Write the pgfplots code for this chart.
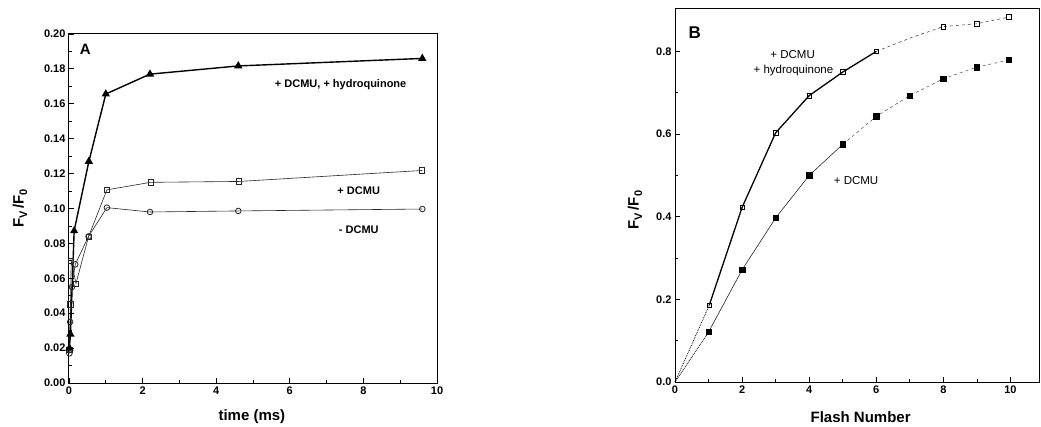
\documentclass[border=0pt]{standalone}
\usepackage{fontspec}
\setmainfont{Liberation Sans}
\usepackage{pgfplots}
\pgfplotsset{compat=1.18}
\newcommand{\FvFo}{F\raisebox{-0.45ex}{\fontsize{11}{12}\selectfont V}\,/F\raisebox{-0.45ex}{\fontsize{11}{12}\selectfont 0}}
\begin{document}
\begin{tikzpicture}[x=1pt,y=1pt]
\pgfplotsset{
 every axis/.append style={
  scale only axis, axis line style={line width=1pt}, tick align=inside,
  xtick pos=bottom, ytick pos=left,
  major tick length=5pt, minor tick length=3pt,
  every tick/.style={black, line width=0.8pt},
  tick label style={font=\fontsize{11}{13}\selectfont\bfseries},
  label style={font=\fontsize{15}{17}\selectfont\bfseries},
  /pgf/number format/assume math mode=true,
  scaled y ticks=false, scaled x ticks=false,
  clip=false,
 }
}
% ---------------- Panel A ----------------
\begin{axis}[at={(69pt,43pt)}, anchor=south west, width=368pt, height=349pt,
  xmin=0, xmax=10, ymin=0, ymax=0.2,
  xtick={0,2,4,6,8,10}, minor x tick num=1,
  ytick={0,0.02,0.04,0.06,0.08,0.10,0.12,0.14,0.16,0.18,0.20}, minor y tick num=1,
  yticklabel style={/pgf/number format/.cd, fixed, fixed zerofill, precision=2},
  xlabel={time (ms)}, ylabel={\FvFo},
  xlabel style={at={(axis description cs:0.497,-0.097)}, anchor=center},
  ylabel style={at={(axis description cs:-0.133,0.5)}, anchor=center, rotate=0}]
\addplot[black!85, line width=0.6pt, mark=o, mark size=2.8pt, mark options={fill=white, solid, line width=0.8pt}]
 coordinates {(0.01,0.017) (0.03,0.035) (0.08,0.055) (0.17,0.068) (0.53,0.084) (1.03,0.1005) (2.2,0.098) (4.6,0.0986) (9.6,0.0997)};
\addplot[black!85, line width=0.6pt, mark=square, mark size=2.6pt, mark options={fill=white, solid, line width=0.8pt}]
 coordinates {(0.01,0.019) (0.04,0.045) (0.06,0.07) (0.19,0.057) (0.53,0.0838) (1.03,0.1107) (2.22,0.115) (4.62,0.1155) (9.6,0.1218)};
\addplot[black, line width=1.4pt, mark=triangle*, mark size=3.4pt, mark options={solid}]
 coordinates {(0.01,0.020) (0.04,0.028) (0.14,0.0872) (0.54,0.127) (1.0,0.1656) (2.2,0.177) (4.6,0.1817) (9.6,0.186)};
\node[anchor=west, font=\fontsize{15}{17}\selectfont\bfseries] at (axis cs:0.2,0.191) {A};
\node[anchor=west, font=\fontsize{11}{13}\selectfont\bfseries] at (axis cs:5.5,0.171) {+ DCMU, + hydroquinone};
\node[anchor=west, font=\fontsize{11}{13}\selectfont\bfseries] at (axis cs:7.2,0.110) {+ DCMU};
\node[anchor=west, font=\fontsize{11}{13}\selectfont\bfseries] at (axis cs:7.24,0.088) {- DCMU};
\end{axis}
% ---------------- Panel B ----------------
\begin{axis}[at={(675pt,44pt)}, anchor=south west, width=364pt, height=374pt,
  xmin=0, xmax=10.85, ymin=0, ymax=0.905,
  xtick={0,2,4,6,8,10}, minor x tick num=1,
  ytick={0,0.2,0.4,0.6,0.8}, minor y tick num=1,
  yticklabel style={/pgf/number format/.cd, fixed, fixed zerofill, precision=1},
  xlabel={Flash Number}, ylabel={\FvFo},
  xlabel style={at={(axis description cs:0.51,-0.094)}, anchor=center},
  ylabel style={at={(axis description cs:-0.11,0.46)}, anchor=center, rotate=0}]
\addplot[black, densely dotted, line width=0.8pt] coordinates {(0,0) (1.02,0.1855)};
\addplot[black, densely dotted, line width=0.8pt] coordinates {(0,0) (1,0.121)};
\addplot[black!85, line width=0.6pt] coordinates {(1,0.121) (2,0.2715) (3,0.397) (4,0.5) (5,0.575)};
\addplot[black!70, line width=0.5pt, dashed] coordinates {(5,0.575) (6,0.643) (7,0.693) (8,0.734) (9,0.762) (10,0.78)};
\addplot[black, only marks, mark=square*, mark size=2.7pt]
 coordinates {(1,0.121) (2,0.2715) (3,0.397) (4,0.5) (5,0.575) (6,0.643) (7,0.693) (8,0.734) (9,0.762) (9.95,0.78)};
\addplot[black, line width=1.3pt] coordinates {(1.02,0.1855) (2,0.4225) (3,0.603) (4,0.693) (5,0.75) (6,0.80)};
\addplot[black!70, line width=0.6pt, dashed] coordinates {(6,0.80) (7,0.832) (8,0.86) (9,0.867) (9.95,0.883)};
\addplot[black, only marks, mark=square, mark size=2.3pt, mark options={fill=white, line width=0.6pt}]
 coordinates {(1.02,0.1855) (2,0.4225) (3,0.603) (4,0.693) (5,0.75) (6,0.80) (8,0.86) (9,0.867) (9.95,0.883)};
\node[anchor=west, font=\fontsize{17}{19}\selectfont\bfseries] at (axis cs:0.3,0.846) {B};
\node[anchor=west, font=\fontsize{11.5}{13}\selectfont] at (axis cs:2.74,0.793) {+ DCMU};
\node[anchor=west, font=\fontsize{11.5}{13}\selectfont] at (axis cs:2.24,0.753) {+ hydroquinone};
\node[anchor=west, font=\fontsize{11.5}{13}\selectfont] at (axis cs:4.63,0.487) {+ DCMU};
\end{axis}
\pgfresetboundingbox
\path[use as bounding box] (0pt,0pt) rectangle (1041pt,426pt);
\end{tikzpicture}
\end{document}
